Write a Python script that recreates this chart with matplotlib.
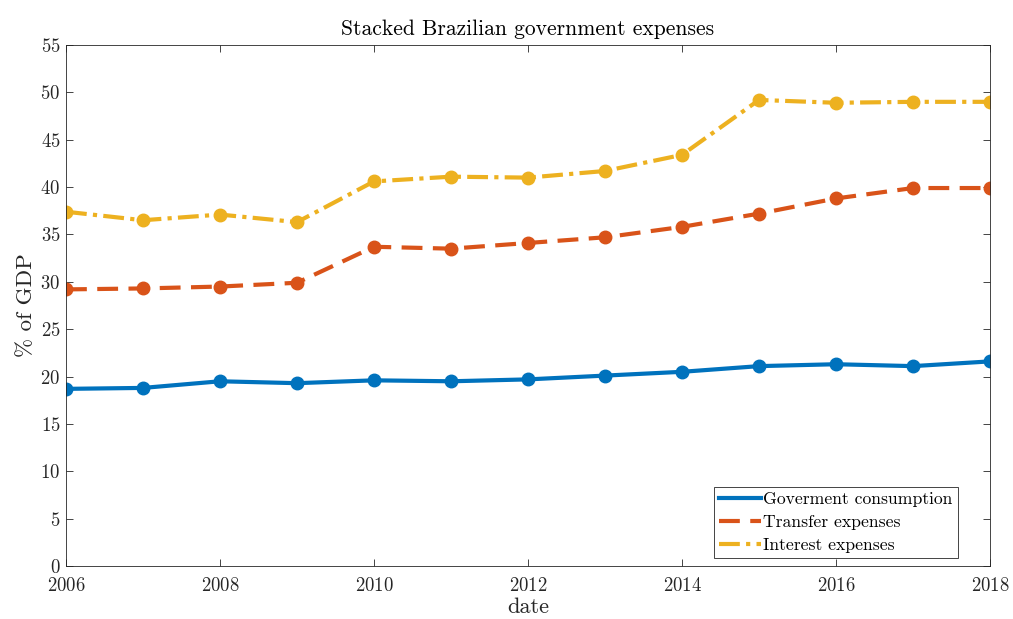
import matplotlib
matplotlib.use("Agg")
import matplotlib.pyplot as plt

years = [2006, 2007, 2008, 2009, 2010, 2011, 2012, 2013, 2014, 2015, 2016, 2017, 2018]
consumption = [18.7, 18.8, 19.5, 19.3, 19.6, 19.5, 19.7, 20.1, 20.5, 21.1, 21.3, 21.1, 21.6]
transfer = [29.2, 29.3, 29.5, 29.9, 33.7, 33.5, 34.1, 34.7, 35.8, 37.2, 38.8, 39.9, 39.9]
interest = [37.4, 36.5, 37.1, 36.3, 40.6, 41.1, 41.0, 41.7, 43.4, 49.2, 48.9, 49.0, 49.0]
series_labels = ["Goverment consumption", "Transfer expenses", "Interest expenses"]
x_ticks = [2006, 2008, 2010, 2012, 2014, 2016, 2018]
y_ticks = list(range(0, 56, 5))

plt.rcParams["font.family"] = ["cmr10", "DejaVu Serif"]
plt.rcParams["axes.formatter.use_mathtext"] = True
plt.rcParams["font.size"] = 13.5

axis_grey = (0.15, 0.15, 0.15)
colors = [(0.0, 0.447, 0.741), (0.85, 0.325, 0.098), (0.929, 0.694, 0.125)]
styles = ["-", (0, (5, 2.5)), (0, (5, 1.5, 1, 1.5))]

W, H = 1013, 619
fig = plt.figure(figsize=(W / 100, H / 100), dpi=100)
ax = fig.add_axes([66 / W, 1 - 566 / H, (990 - 66) / W, (566 - 45) / H])

for vals, lab, c, ls in zip([consumption, transfer, interest], series_labels, colors, styles):
    ax.plot(years, vals, color=c, linestyle=ls, linewidth=3.0, marker="o",
            markersize=9, markerfacecolor=c, markeredgecolor=c, label=lab)

ax.set_xlim(2006, 2018)
ax.set_ylim(0, 55)
ax.set_xticks(x_ticks)
ax.set_yticks(y_ticks)
ax.tick_params(direction="in", top=True, right=True, length=5, width=0.6,
               colors=axis_grey, labelcolor=axis_grey, labelsize=13.5, pad=4)
ax.tick_params(axis="x", pad=8)
for sp in ax.spines.values():
    sp.set_color(axis_grey)
    sp.set_linewidth(0.6)

ax.set_title("Stacked Brazilian government expenses", color="black", fontsize=15.5, pad=7)
ax.set_xlabel("date", color=axis_grey, fontsize=16, labelpad=2)
ax.set_ylabel("% of GDP", color=axis_grey, fontsize=16.5, labelpad=3)

leg = ax.legend(loc="lower right", bbox_to_anchor=(958 / W, 1 - 558 / H),
                bbox_transform=fig.transFigure, borderaxespad=0,
                handlelength=2.35, handletextpad=0.15, labelspacing=0.42,
                fancybox=False, framealpha=1, edgecolor=axis_grey,
                borderpad=0.3, fontsize=12.7)
leg.get_frame().set_linewidth(0.6)
for h in leg.get_lines():
    h.set_marker("")

fig.savefig("out.png", dpi=100)
